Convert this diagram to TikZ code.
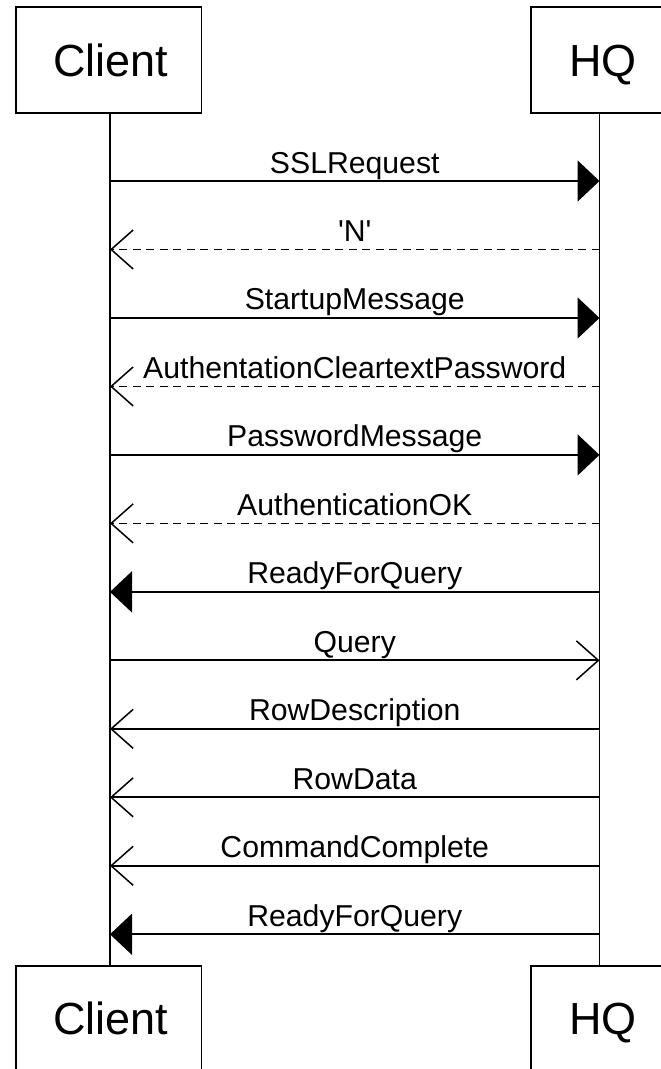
\documentclass[tikz,border=0pt]{standalone}
\usepackage{fontspec}
\setmainfont{Liberation Sans}[Ligatures=TeXOff]
\usetikzlibrary{arrows.meta}
\tikzset{
  actor/.style={draw=black, line width=1.8pt, minimum width=#1, minimum height=105.7pt, inner sep=0pt,
    text height=32.5pt, text depth=0pt, font=\fontsize{45}{50}\selectfont},
  lifeline/.style={line width=1.8pt},
  msg/.style={line width=1.8pt},
  reply/.style={line width=1.8pt, dash pattern=on 8pt off 5.5pt},
  filled/.style={-{Triangle[length=22pt,width=41pt]}},
  open/.style={-{Straight Barb[length=22pt,width=39pt,line width=1.5pt]}},
  lbl/.style={midway, anchor=base, yshift=8pt, inner sep=0pt, font=\fontsize{30.2}{34}\selectfont}
}
\begin{document}
\begin{tikzpicture}[x=1pt,y=-1pt]
\useasboundingbox (0,0) rectangle (661,1069);
\clip (0,0) rectangle (661,1069);
\node[actor=185.5pt] (ctop) at (108.75,60.2) {\hspace*{4.5pt}Client};
\node[actor=144pt] (htop) at (603,60.2) {HQ};
\node[actor=185.5pt] (cbot) at (108.75,1018.6) {\hspace*{4.5pt}Client};
\node[actor=144pt] (hbot) at (603,1018.6) {HQ};
\foreach \i in {1,...,12}{
  \coordinate (c\i) at (110,{181+68.48*(\i-1)});
  \coordinate (h\i) at (599.5,{181+68.48*(\i-1)});
}
\draw[lifeline] (ctop.south -| c1) -- (cbot.north -| c1);
\draw[lifeline] (htop.south -| h1) -- (hbot.north -| h1);
\draw[msg,filled] (c1) -- (h1) node[lbl] {SSLRequest};
\draw[reply,open] (h2) -- (c2) node[lbl] {'N'};
\draw[msg,filled] (c3) -- (h3) node[lbl] {StartupMessage};
\draw[reply,open] (h4) -- (c4) node[lbl] {AuthentationCleartextPassword};
\draw[msg,filled] (c5) -- (h5) node[lbl] {PasswordMessage};
\draw[reply,open] (h6) -- (c6) node[lbl] {AuthenticationOK};
\draw[msg,filled] (h7) -- (c7) node[lbl] {ReadyForQuery};
\draw[msg,open] (c8) -- (h8) node[lbl] {Query};
\draw[msg,open] (h9) -- (c9) node[lbl] {RowDescription};
\draw[msg,open] (h10) -- (c10) node[lbl] {RowData};
\draw[msg,open] (h11) -- (c11) node[lbl] {CommandComplete};
\draw[msg,filled] (h12) -- (c12) node[lbl] {ReadyForQuery};
\end{tikzpicture}
\end{document}
